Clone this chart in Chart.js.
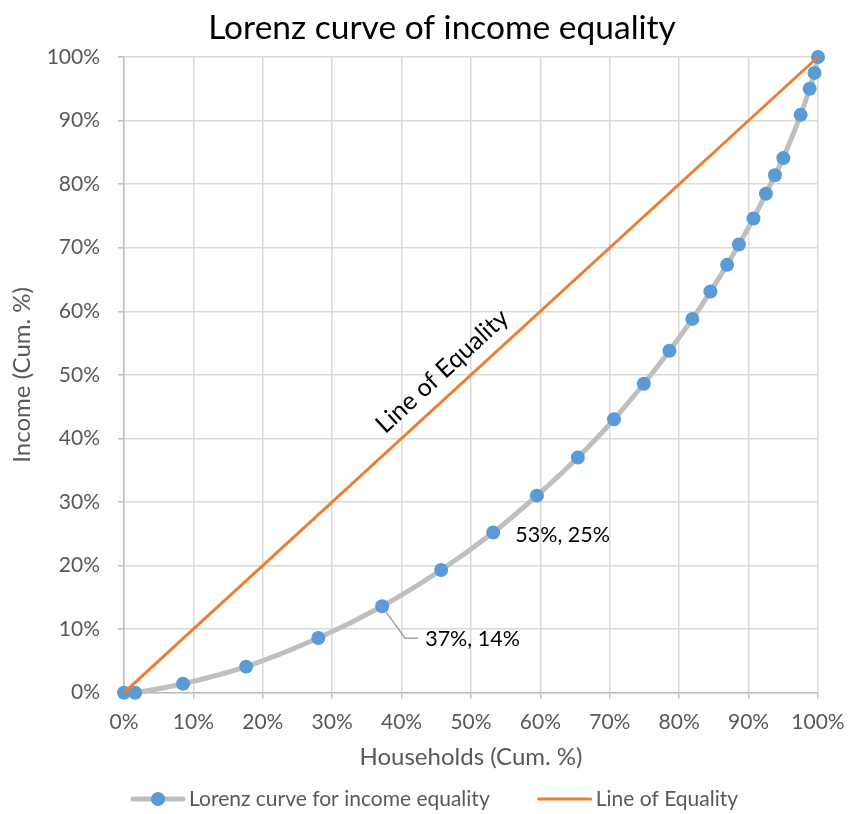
<!DOCTYPE html>
<html>
<head>
<meta charset="utf-8">
<script src="https://cdn.jsdelivr.net/npm/chart.js@4.4.1/dist/chart.umd.min.js"></script>
<style>
  html, body { margin: 0; padding: 0; background: #fff; }
  #box { width: 848px; height: 814px; }
</style>
</head>
<body>
<div id="box"><canvas id="chart"></canvas></div>
<script>
// cumulative share of households (x) and income (y)
var households = [0, 0.016, 0.085, 0.176, 0.280, 0.372, 0.457, 0.532, 0.595, 0.654, 0.706, 0.749, 0.786, 0.819, 0.845, 0.869, 0.886, 0.907, 0.925, 0.938, 0.950, 0.975, 0.988, 0.995, 1.0];
var income     = [0, 0.0, 0.014, 0.041, 0.086, 0.136, 0.193, 0.252, 0.310, 0.370, 0.430, 0.486, 0.538, 0.588, 0.631, 0.673, 0.705, 0.746, 0.785, 0.814, 0.841, 0.909, 0.950, 0.975, 1.0];
var equalityX  = [0, 1];
var equalityY  = [0, 1];
var calloutIdx = [5, 7];
var seriesNames = ['Lorenz curve for income equality', 'Line of Equality'];
var chartTitle = 'Lorenz curve of income equality';

var FONT = 'Lato, "Open Sans", sans-serif';
var colours = {
    curve: '#BFBFBF',
    marker: '#5B9BD5',
    equality: '#ED7D31',
    grid: '#D9D9D9',
    axis: '#BFBFBF',
    text: '#595959'
};

var lorenzPts = [];
for (var i = 0; i < households.length; i++) {
    lorenzPts.push({ x: households[i], y: income[i] });
}
var equalityPts = [];
for (var j = 0; j < equalityX.length; j++) {
    equalityPts.push({ x: equalityX[j], y: equalityY[j] });
}

function pct(v) { return Math.round(v * 100) + '%'; }

// legend swatch: grey line with a marker, or a plain orange line
function drawSwatch(g, x, y, k) {
    g.lineCap = 'round';
    if (k === 0) {
        g.strokeStyle = colours.curve; g.lineWidth = 5;
        g.beginPath(); g.moveTo(x + 3, y); g.lineTo(x + 53, y); g.stroke();
        g.fillStyle = colours.marker;
        g.beginPath(); g.arc(x + 28, y, 7, 0, Math.PI * 2); g.fill();
    } else {
        g.strokeStyle = colours.equality; g.lineWidth = 3;
        g.beginPath(); g.moveTo(x + 2, y); g.lineTo(x + 54, y); g.stroke();
    }
}

// title, legend, callouts and the rotated line label
var decorations = {
    id: 'decorations',
    afterDraw: function (chart) {
        var ctx = chart.ctx;
        ctx.save();
        // title
        ctx.font = '33.5px ' + FONT;
        ctx.fillStyle = '#000';
        ctx.textAlign = 'center';
        ctx.textBaseline = 'alphabetic';
        ctx.fillText(chartTitle, 442, 39);

        // legend along the bottom
        ctx.font = '21px ' + FONT;
        ctx.textAlign = 'left';
        ctx.textBaseline = 'middle';
        var lx = 130, ly = 799;
        for (var k = 0; k < seriesNames.length; k++) {
            drawSwatch(ctx, lx, ly, k);
            lx += 59;
            ctx.fillStyle = colours.text;
            ctx.fillText(seriesNames[k], lx, ly);
            lx += ctx.measureText(seriesNames[k]).width + 47;
        }
        ctx.restore();
    },
    afterDatasetsDraw: function (chart) {
        var ctx = chart.ctx;
        var xs = chart.scales.x, ys = chart.scales.y;
        ctx.save();
        ctx.font = '21.5px ' + FONT;
        ctx.fillStyle = '#000';
        ctx.textBaseline = 'middle';
        ctx.textAlign = 'left';

        // 53%, 25% sits just to the right of its point
        var p = calloutIdx[1];
        var px = xs.getPixelForValue(households[p]), py = ys.getPixelForValue(income[p]);
        ctx.fillText(pct(households[p]) + ', ' + pct(income[p]), px + 22, py + 3);

        // 37%, 14% with a leader line
        p = calloutIdx[0];
        px = xs.getPixelForValue(households[p]); py = ys.getPixelForValue(income[p]);
        ctx.strokeStyle = '#A6A6A6';
        ctx.lineWidth = 1.5;
        ctx.beginPath();
        ctx.moveTo(px + 4, py + 6);
        ctx.lineTo(px + 23, py + 32);
        ctx.lineTo(px + 36, py + 32);
        ctx.stroke();
        ctx.fillText(pct(households[p]) + ', ' + pct(income[p]), px + 43, py + 33);

        // Line of Equality text along the orange line
        var x0 = xs.getPixelForValue(0), y0 = ys.getPixelForValue(0);
        var x1 = xs.getPixelForValue(1), y1 = ys.getPixelForValue(1);
        var ang = Math.atan2(y1 - y0, x1 - x0);
        var t = 0.48;
        ctx.translate(xs.getPixelForValue(t), ys.getPixelForValue(t));
        ctx.rotate(ang);
        ctx.font = '25px ' + FONT;
        ctx.textAlign = 'center';
        ctx.textBaseline = 'alphabetic';
        ctx.fillText(seriesNames[1], 0, -14);
        ctx.restore();
    }
};

var el = document.getElementById('chart');
var ctx = el.getContext('2d');
var myChart = new Chart(ctx, {
    type: 'line',
    data: {
        datasets: [{
            label: seriesNames[0],
            data: lorenzPts,
            borderColor: colours.curve,
            borderWidth: 5,
            backgroundColor: colours.marker,
            pointBackgroundColor: colours.marker,
            pointBorderWidth: 0,
            pointRadius: 7,
            tension: 0.3,
            clip: false,
            order: 2
        }, {
            label: seriesNames[1],
            data: equalityPts,
            borderColor: colours.equality,
            borderWidth: 3,
            pointRadius: 0,
            clip: false,
            order: 1
        }]
    },
    options: {
        responsive: true,
        maintainAspectRatio: false,
        animation: false,
        events: [],
        layout: { padding: { left: 0, right: 30, top: 57, bottom: 42 } },
        plugins: {
            title: { display: false },
            legend: { display: false },
            tooltip: { enabled: false }
        },
        scales: {
            x: {
                type: 'linear',
                min: 0, max: 1,
                afterFit: function (s) { s.height = 79.3; s.paddingLeft = 0; s.paddingRight = 0; },
                ticks: {
                    stepSize: 0.1,
                    color: colours.text,
                    font: { family: FONT, size: 21 },
                    padding: 11,
                    maxRotation: 0,
                    callback: function (v) { return pct(v); }
                },
                grid: { color: colours.grid, lineWidth: 1.5, tickLength: 6, tickColor: colours.axis },
                border: { color: colours.axis, width: 1.5 },
                title: {
                    display: true,
                    text: 'Households (Cum. %)',
                    color: colours.text,
                    font: { family: FONT, size: 24 },
                    padding: { top: 0, bottom: 0 }
                }
            },
            y: {
                type: 'linear',
                min: 0, max: 1,
                afterFit: function (s) { s.width = 124; s.paddingTop = 0; s.paddingBottom = 0; },
                ticks: {
                    stepSize: 0.1,
                    color: colours.text,
                    font: { family: FONT, size: 21 },
                    padding: 18,
                    callback: function (v) { return pct(v); }
                },
                grid: { color: colours.grid, lineWidth: 1.5, tickLength: 6, tickColor: colours.axis },
                border: { color: colours.axis, width: 1.5 },
                title: {
                    display: true,
                    text: 'Income (Cum. %)',
                    color: colours.text,
                    font: { family: FONT, size: 24 },
                    padding: { top: 8, bottom: 0 }
                }
            }
        }
    },
    plugins: [decorations]
});
</script>
</body>
</html>
